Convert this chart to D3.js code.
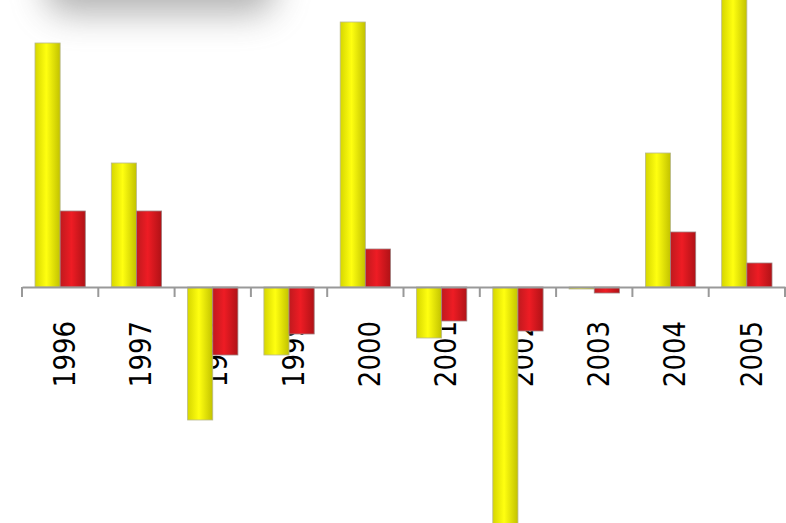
<!DOCTYPE html>
<html>
<head>
<meta charset="utf-8">
<script src="https://cdn.jsdelivr.net/npm/d3@7"></script>
<style>
  html, body { margin: 0; padding: 0; background: #fff; }
  svg { display: block; }
</style>
</head>
<body>
<script>
// Yearly values for the two series
const years = ["1996", "1997", "1998", "1999", "2000", "2001", "2002", "2003", "2004", "2005"];
const seriesA = [24.4, 12.4, -13.3, -6.8, 26.5, -5.1, -26.5, -0.2, 13.4, 30.0];
const seriesB = [7.6, 7.6, -6.8, -4.7, 3.8, -3.4, -4.4, -0.6, 5.5, 2.4];
const seriesNames = ["A", "B"];

const W = 786, H = 523;
const svg = d3.select("body").append("svg").attr("width", W).attr("height", H);
const defs = svg.append("defs");

// Cylinder-like horizontal shading for each series
function shade(id, stops) {
  const g = defs.append("linearGradient").attr("id", id)
    .attr("x1", "0%").attr("x2", "100%").attr("y1", "0%").attr("y2", "0%");
  stops.forEach(([o, c]) => g.append("stop").attr("offset", o).attr("stop-color", c));
}
shade("gA", [["0%", "#d6d600"], ["45%", "#ffff10"], ["100%", "#c2c200"]]);
shade("gB", [["0%", "#c01a1e"], ["45%", "#ee1c24"], ["100%", "#b01216"]]);

// Soft shadow of a panel sitting above the plot
defs.append("filter").attr("id", "soft").attr("x", "-50%").attr("y", "-50%")
  .attr("width", "200%").attr("height", "200%")
  .append("feGaussianBlur").attr("stdDeviation", 17);
svg.append("rect").attr("x", 45).attr("y", -70).attr("width", 230).attr("height", 84)
  .attr("rx", 22).attr("fill", "#767676").attr("opacity", 0.55).attr("filter", "url(#soft)");

const x0 = d3.scaleBand().domain(years).range([22, 785]).paddingInner(0).paddingOuter(0);
const x1 = d3.scaleBand().domain(seriesNames).range([13, x0.bandwidth() - 13]).padding(0);
const y = d3.scaleLinear().domain([-23.6, 28.7]).range([H, 0]);

// Category labels (drawn under the bars)
svg.append("g").selectAll("text").data(years).join("text")
  .attr("transform", d => `translate(${x0(d) + x0.bandwidth() / 2 + 3.5},321) scale(1.18,1) rotate(-90)`)
  .attr("text-anchor", "end")
  .attr("dy", "0.365em")
  .attr("font-family", "DejaVu Sans")
  .attr("font-size", 26)
  .attr("fill", "#000")
  .text(d => d);

const rows = years.map((yr, i) => ({ yr, vals: [seriesA[i], seriesB[i]] }));
const groups = svg.append("g").selectAll("g").data(rows).join("g")
  .attr("transform", d => `translate(${x0(d.yr)},0)`);
groups.selectAll("rect").data(d => d.vals.map((v, j) => ({ v, key: seriesNames[j] })))
  .join("rect")
  .attr("x", d => x1(d.key))
  .attr("width", x1.bandwidth())
  .attr("y", d => Math.min(y(d.v), y(0)))
  .attr("height", d => Math.abs(y(d.v) - y(0)))
  .attr("fill", d => d.key === "A" ? "url(#gA)" : "url(#gB)")
  .attr("stroke", d => d.key === "A" ? "#b8b890" : "#a08080")
  .attr("stroke-width", 0.8);

// Category axis at zero
const axis = d3.axisBottom(x0).tickSize(10).tickFormat("").tickSizeOuter(0);
const ag = svg.append("g").attr("transform", `translate(0,${y(0)})`).call(axis);
ag.select(".domain").attr("stroke", "#999").attr("stroke-width", 2.2);
ag.selectAll(".tick").remove();
// boundary ticks between categories
const bounds = years.map(d => x0(d)).concat([x0.range()[1]]);
ag.selectAll("line.b").data(bounds).join("line").attr("class", "b")
  .attr("x1", d => d).attr("x2", d => d).attr("y1", 0).attr("y2", 10)
  .attr("stroke", "#999").attr("stroke-width", 2);
</script>
</body>
</html>
